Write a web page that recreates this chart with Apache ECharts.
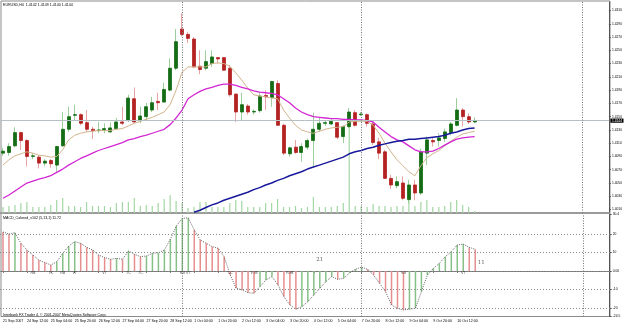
<!DOCTYPE html>
<html><head><meta charset="utf-8">
<script src="https://cdn.jsdelivr.net/npm/echarts@6/dist/echarts.min.js"></script>
<style>html,body{margin:0;padding:0;background:#fff}#c{width:625px;height:325px}</style>
</head><body><div id="c"></div>
<script>
// ---- data (EURUSD H4) ----
const opens = [1.4095,1.4096,1.4106,1.4126,1.4114,1.4090,1.4089,1.4080,1.4084,1.4077,
1.4106,1.4131,1.4152,1.4153,1.4141,1.4131,1.4129,1.4130,1.4127,1.4132,
1.4142,1.4144,1.4177,1.4144,1.4150,1.4160,1.4173,1.4172,1.4190,1.4223,
1.4282,1.4274,1.4267,1.4226,1.4223,1.4230,1.4239,1.4239,1.4223,1.4184,
1.4157,1.4166,1.4157,1.4159,1.4182,1.4179,1.4200,1.4137,1.4094,1.4104,
1.4096,1.4104,1.4114,1.4131,1.4140,1.4139,1.4141,1.4120,1.4135,1.4156,
1.4153,1.4153,1.4139,1.4112,1.4097,1.4057,1.4046,1.4050,1.4025,1.4047,
1.4035,1.4095,1.4114,1.4114,1.4117,1.4126,1.4137,1.4160,1.4150,1.4142];
const highs = [1.4103,1.4110,1.4134,1.4127,1.4116,1.4095,1.4092,1.4086,1.4086,1.4106,
1.4157,1.4165,1.4168,1.4155,1.4160,1.4135,1.4142,1.4140,1.4141,1.4148,
1.4165,1.4183,1.4194,1.4165,1.4171,1.4180,1.4186,1.4201,1.4238,1.4282,
1.4306,1.4278,1.4270,1.4250,1.4250,1.4250,1.4240,1.4240,1.4228,1.4185,
1.4186,1.4169,1.4161,1.4186,1.4190,1.4204,1.4205,1.4139,1.4105,1.4115,
1.4110,1.4117,1.4156,1.4148,1.4145,1.4148,1.4142,1.4137,1.4163,1.4160,
1.4157,1.4155,1.4142,1.4118,1.4100,1.4062,1.4060,1.4060,1.4055,1.4055,
1.4102,1.4120,1.4119,1.4125,1.4132,1.4142,1.4178,1.4163,1.4155,1.4149];
const lows = [1.4091,1.4091,1.4104,1.4100,1.4075,1.4086,1.4072,1.4075,1.4073,1.4067,
1.4105,1.4127,1.4145,1.4137,1.4127,1.4116,1.4125,1.4125,1.4126,1.4130,
1.4137,1.4142,1.4140,1.4140,1.4145,1.4157,1.4160,1.4171,1.4188,1.4220,
1.4271,1.4261,1.4223,1.4214,1.4220,1.4225,1.4230,1.4219,1.4180,1.4142,
1.4145,1.4153,1.4153,1.4156,1.4160,1.4165,1.4136,1.4092,1.4090,1.4094,
1.4082,1.4100,1.4075,1.4127,1.4136,1.4137,1.4116,1.4110,1.4133,1.4135,
1.4151,1.4135,1.4107,1.4086,1.4056,1.4041,1.4042,1.4024,1.4019,1.4024,
1.4032,1.4077,1.4105,1.4105,1.4112,1.4122,1.4135,1.4135,1.4139,1.4140];
const closes = [1.4098,1.4105,1.4126,1.4114,1.4090,1.4091,1.4080,1.4083,1.4079,1.4105,
1.4131,1.4150,1.4153,1.4140,1.4131,1.4129,1.4130,1.4132,1.4133,1.4142,
1.4140,1.4178,1.4142,1.4151,1.4165,1.4171,1.4171,1.4191,1.4223,1.4263,
1.4274,1.4268,1.4225,1.4221,1.4233,1.4240,1.4237,1.4220,1.4183,1.4157,
1.4168,1.4157,1.4158,1.4181,1.4180,1.4203,1.4137,1.4095,1.4103,1.4096,
1.4105,1.4114,1.4131,1.4140,1.4141,1.4143,1.4119,1.4135,1.4157,1.4137,
1.4154,1.4140,1.4111,1.4095,1.4057,1.4047,1.4052,1.4027,1.4047,1.4035,
1.4097,1.4115,1.4112,1.4118,1.4127,1.4139,1.4160,1.4150,1.4142,1.4144];
const maFast = [1.4077,1.4085,1.4091,1.4094,1.4097,1.4095,1.4092,1.4091,1.4089,1.4090,
1.4100,1.4115,1.4122,1.4125,1.4127,1.4128,1.4129,1.4129,1.4129,1.4131,
1.4132,1.4136,1.4140,1.4143,1.4146,1.4149,1.4153,1.4157,1.4168,1.4190,
1.4217,1.4225,1.4225,1.4225,1.4225,1.4230,1.4231,1.4230,1.4226,1.4216,
1.4205,1.4193,1.4183,1.4181,1.4180,1.4178,1.4177,1.4160,1.4148,1.4137,
1.4130,1.4127,1.4125,1.4128,1.4131,1.4133,1.4134,1.4135,1.4142,1.4143,
1.4143,1.4143,1.4137,1.4125,1.4110,1.4097,1.4085,1.4076,1.4067,1.4061,
1.4076,1.4088,1.4094,1.4099,1.4106,1.4113,1.4119,1.4124,1.4126,1.4128];
const maMid = [1.4027,1.4032,1.4038,1.4044,1.4050,1.4053,1.4056,1.4058,1.4061,1.4066,
1.4071,1.4077,1.4082,1.4087,1.4091,1.4095,1.4099,1.4102,1.4105,1.4108,
1.4111,1.4115,1.4117,1.4120,1.4122,1.4125,1.4128,1.4131,1.4138,1.4148,
1.4160,1.4177,1.4183,1.4188,1.4192,1.4194,1.4197,1.4199,1.4199,1.4197,
1.4194,1.4192,1.4189,1.4187,1.4186,1.4185,1.4183,1.4177,1.4171,1.4163,
1.4157,1.4153,1.4150,1.4149,1.4148,1.4147,1.4147,1.4146,1.4146,1.4145,
1.4145,1.4144,1.4142,1.4134,1.4127,1.4120,1.4115,1.4112,1.4106,1.4100,
1.4097,1.4097,1.4098,1.4102,1.4107,1.4112,1.4116,1.4118,1.4119,1.4120];
const maSlow = [null,null,null,null,null,null,null,null,null,null,
null,null,null,null,null,null,null,null,null,null,
null,null,null,null,null,null,null,null,null,null,
null,null,1.4006,1.4009,1.4013,1.4017,1.4020,1.4024,1.4027,1.4030,
1.4033,1.4036,1.4040,1.4043,1.4047,1.4050,1.4054,1.4057,1.4061,1.4064,
1.4067,1.4071,1.4074,1.4077,1.4080,1.4083,1.4086,1.4089,1.4094,1.4097,
1.4099,1.4102,1.4104,1.4107,1.4109,1.4111,1.4113,1.4114,1.4116,1.4116,
1.4117,1.4118,1.4119,1.4120,1.4122,1.4125,1.4127,1.4130,1.4132,1.4133];
const volumes = [1500,1750,2000,2500,2750,1500,1500,1500,2000,3250,
3750,1750,1750,1500,2750,1750,1750,1750,1500,2500,
2750,2750,3750,1750,2000,1750,2500,3500,4500,3000,
2500,1250,1500,2750,2750,1500,1500,1500,2500,3250,
3000,1500,1500,1500,2500,2500,3500,1500,1500,1750,
1250,1500,4000,1500,1500,1500,1750,2500,22000,1750,
1750,1500,2250,1750,1750,1500,1750,1750,3500,1750,
2750,3250,1500,1500,1750,2750,3250,2000,1500,500];
const macd = [21.0,19.9,20.6,14.9,11.3,8.6,5.9,4.5,3.2,5.0,
9.5,13.4,15.8,14.9,12.7,11.3,8.6,7.2,6.3,6.8,
6.3,10.8,9.0,7.7,8.1,9.5,9.8,11.3,17.1,24.2,
28.3,28.6,22.1,16.7,14.9,13.1,12.2,7.7,-2.0,-9.3,
-10.2,-11.7,-12.0,-8.4,-4.8,-3.0,-7.5,-13.8,-18.3,-20.6,
-19.2,-16.5,-12.9,-9.3,-5.8,-3.0,-4.5,-3.9,-1.0,1.0,
2.0,0.9,-2.2,-6.6,-11.1,-18.3,-20.1,-21.0,-20.6,-20.1,
-11.1,-2.2,1.4,4.1,7.7,10.4,14.0,14.5,12.7,11.7];
const macdNotes = [[5,'RB'],[8,'TC'],[10,'RB'],[12,'VT'],[17,'VT'],[21,'TC'],[23,'TC'],
[30,'RB'],[31,'VT'],[38,'TC'],[42,'VTB'],[48,'RTB'],[67,'VB'],[77,'VT']];
const macdValueNotes = [[53,6.3,'21'],[80,4.5,'11']];
const timeLabels = ['21 Sep 2007','24 Sep 12:00','25 Sep 04:00','25 Sep 20:00','26 Sep 12:00',
'27 Sep 04:00','27 Sep 20:00','28 Sep 12:00','1 Oct 04:00','1 Oct 20:00','2 Oct 12:00',
'3 Oct 04:00','3 Oct 20:00','4 Oct 12:00','5 Oct 04:00','7 Oct 20:00','8 Oct 12:00',
'9 Oct 04:00','9 Oct 20:00','10 Oct 12:00'];
const priceTicks = [1.4010,1.4030,1.4050,1.4070,1.4090,1.4110,1.4130,1.4150,1.4170,1.4190,
1.4210,1.4230,1.4250,1.4270,1.4290,1.4310];
const macdTicks = [-24.5,-20,-10,0,10,20,30.4];
const macdLevels = [20,10,0,-10,-20];
const separators = [30,60,97];
const symbolName = 'EURUSD,H4';
const macdName = 'MACD_Colored_v102 (5,13,1) 11.72';
const copyright = 'Interbank FX Trader 4, \u00a9 2001-2007 MetaQuotes Software Corp.';

// ---- build ----
const N = 102;
const slots = Array.from({length: N}, (_, i) => String(i));
const FONT = "'Liberation Sans', Arial, sans-serif";
const isLabel = i => i % 4 === 0 && i / 4 < timeLabels.length;
const last = closes.length - 1;
const titleText = symbolName + '  ' + [opens[last], highs[last], lows[last], closes[last]].map(v => v.toFixed(4)).join(' ');
const ohlc = opens.map((o, i) => [o, closes[i], lows[i], highs[i]]);
const bodies = opens.map((o, i) => [o, closes[i], Math.min(o, closes[i]), Math.max(o, closes[i])]);
const GREEN_H = '#86c086', RED_H = '#e68e8e';
const macdBars = macd.map((v, i) => ({value: v, itemStyle: {color: (i > 0 && v >= macd[i - 1]) ? GREEN_H : RED_H}}));
const sepLines = separators.map(s => ({xAxis: s}));
const sepStyle = {color: '#777', type: [1, 1.5], width: 1};

const chart = echarts.init(document.getElementById('c'), null, {renderer: 'canvas'});
const ts = (fs) => ({fontSize: fs, fontWeight: 'normal', color: '#000', fontFamily: FONT});
chart.setOption({
  animation: false,
  backgroundColor: '#fff',
  title: [
    {text: titleText, left: 3, top: 2.5, padding: 0, textStyle: ts(3.6)},
    {text: macdName, left: 3, top: 216, padding: 0, textStyle: ts(3.6)},
    {text: copyright, left: 3, top: 312.5, padding: 0, textStyle: ts(3.6)}
  ],
  graphic: [{type: 'rect', shape: {x: 1, y: 1, width: 609, height: 315.5}, style: {fill: 'none', stroke: '#8a8a8a', lineWidth: 1}, silent: true, z: 0}],
  grid: [
    {left: -2.3, width: 612, top: 2, height: 211},
    {left: -2.3, width: 612, top: 214.5, height: 102}
  ],
  xAxis: [
    {type: 'category', gridIndex: 0, data: slots, boundaryGap: true,
     axisLine: {show: true, lineStyle: {color: '#9a9a9a', width: 2}}, axisTick: {show: false}, axisLabel: {show: false}, splitLine: {show: false}},
    {type: 'category', gridIndex: 1, data: slots, boundaryGap: true,
     axisLine: {show: true, lineStyle: {color: '#777', width: 1}},
     axisTick: {show: true, alignWithLabel: true, interval: (i) => isLabel(i), length: 2, lineStyle: {color: '#777'}},
     axisLabel: {interval: (i) => isLabel(i), formatter: (v, i) => timeLabels[i / 4] || '', align: 'left', fontSize: 3.6, color: '#000', margin: 2.5, fontFamily: FONT},
     splitLine: {show: false}}
  ],
  yAxis: [
    {type: 'value', gridIndex: 0, position: 'right', min: 1.40048, max: 1.43228,
     axisLine: {show: true, lineStyle: {color: '#555', width: 1}},
     axisTick: {show: true, length: 2, customValues: priceTicks, lineStyle: {color: '#555'}},
     axisLabel: {customValues: priceTicks, formatter: v => v.toFixed(4), fontSize: 3.3, color: '#000', margin: 3, fontFamily: FONT},
     splitLine: {show: false}},
    {type: 'value', gridIndex: 0, min: 0, max: 52750, show: false},
    {type: 'value', gridIndex: 1, position: 'right', min: -24.5, max: 30.4,
     axisLine: {show: true, lineStyle: {color: '#555', width: 1}},
     axisTick: {show: true, length: 2, customValues: macdTicks, lineStyle: {color: '#555'}},
     axisLabel: {customValues: macdTicks, formatter: v => v === 0 ? '0.00' : String(v), fontSize: 3.3, color: '#000', margin: 3, fontFamily: FONT},
     splitLine: {show: false}}
  ],
  series: [
    {type: 'bar', xAxisIndex: 0, yAxisIndex: 1, data: volumes, barWidth: 1.2, itemStyle: {color: '#a3d6a3'}, silent: true, z: 1},
    {type: 'line', xAxisIndex: 0, yAxisIndex: 0, data: closes, symbol: 'none', lineStyle: {opacity: 0}, silent: true, z: 1,
     markLine: {symbol: ['none', 'none'], silent: true, animation: false, precision: 4,
       data: [
         {yAxis: closes[last], lineStyle: {color: '#b4c0c4', type: 'solid', width: 1},
          label: {show: true, position: 'end', formatter: closes[last].toFixed(4), backgroundColor: '#000', color: '#fff', fontSize: 3.3, padding: [0.6, 1.5], distance: 1.5, fontFamily: FONT}},
         ...sepLines.map(d => Object.assign({}, d, {lineStyle: sepStyle, label: {show: false}}))
       ]}},
    {type: 'candlestick', xAxisIndex: 0, yAxisIndex: 0, data: ohlc, barWidth: 1, silent: true, z: 2,
     itemStyle: {color: '#9ccf9c', color0: '#e8a4a4', borderColor: '#9ccf9c', borderColor0: '#e8a4a4', borderWidth: 1}},
    {type: 'candlestick', xAxisIndex: 0, yAxisIndex: 0, data: bodies, barWidth: 3.5, silent: true, z: 3,
     itemStyle: {color: '#146c14', color0: '#b52222', borderColor: '#146c14', borderColor0: '#b52222', borderWidth: 0.8}},
    {type: 'line', xAxisIndex: 0, yAxisIndex: 0, data: maFast, symbol: 'none', lineStyle: {color: '#d2b48c', width: 1}, z: 4, silent: true},
    {type: 'line', xAxisIndex: 0, yAxisIndex: 0, data: maMid, symbol: 'none', lineStyle: {color: '#d326d3', width: 1.3}, z: 4, silent: true},
    {type: 'line', xAxisIndex: 0, yAxisIndex: 0, data: maSlow, symbol: 'none', lineStyle: {color: '#18189c', width: 1.5}, z: 4, silent: true},
    {type: 'bar', xAxisIndex: 1, yAxisIndex: 2, data: macdBars, barWidth: 1.5, silent: true, z: 2,
     markLine: {symbol: ['none', 'none'], silent: true, animation: false, precision: 4,
       data: [
         ...macdLevels.map(l => ({yAxis: l, lineStyle: {color: '#8a8a8a', type: [1, 2], width: 1}, label: {show: false}})),
         ...sepLines.map(d => Object.assign({}, d, {lineStyle: sepStyle, label: {show: false}}))
       ]}},
    {type: 'line', xAxisIndex: 1, yAxisIndex: 2, data: macd, symbol: 'none', lineStyle: {color: '#555', type: [1, 1.2], width: 0.9}, z: 3, silent: true},
    {type: 'scatter', xAxisIndex: 1, yAxisIndex: 2, symbolSize: 0, silent: true, z: 5,
     data: macdNotes.map(n => ({value: [n[0], -1.2], label: {formatter: n[1]}})),
     label: {show: true, position: 'inside', fontSize: 3.6, color: '#222', fontFamily: FONT}},
    {type: 'scatter', xAxisIndex: 1, yAxisIndex: 2, symbolSize: 0, silent: true, z: 5,
     data: macdValueNotes.map(n => ({value: [n[0], n[1]], label: {formatter: n[2]}})),
     label: {show: true, position: 'inside', fontSize: 5.5, color: '#333', fontFamily: "'DejaVu Serif', serif"}}
  ]
});
</script></body></html>
